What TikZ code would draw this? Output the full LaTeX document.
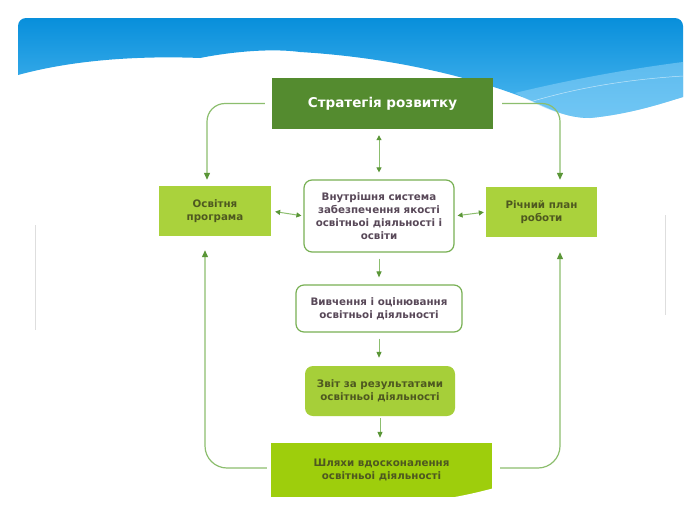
\documentclass[tikz,border=0pt]{standalone}
\usepackage{fontspec}
\setmainfont{DejaVu Sans}
\usetikzlibrary{arrows.meta,calc}
\definecolor{dkgreen}{RGB}{84,139,47}
\definecolor{ltgreen}{RGB}{170,210,60}
\definecolor{zvgreen}{RGB}{166,207,57}
\definecolor{brgreen}{RGB}{158,206,12}
\definecolor{bordgreen}{RGB}{120,176,84}
\definecolor{linegreen}{RGB}{140,190,110}
\definecolor{tipgreen}{RGB}{90,150,55}
\definecolor{olivetext}{RGB}{78,88,32}
\definecolor{graytext}{RGB}{88,72,88}
\definecolor{bluetop}{RGB}{8,143,219}
\definecolor{bluebot}{RGB}{80,185,240}
\definecolor{bluelight}{RGB}{140,210,248}
\tikzset{
  boxbase/.style={inner sep=0pt, align=center, font=\bfseries\fontsize{10.3}{13}\selectfont},
  greenbox/.style={boxbase, fill=ltgreen, text=olivetext},
  whitebox/.style={boxbase, draw=bordgreen, line width=1.2pt, fill=white, rounded corners=8pt, text=graytext},
  conn/.style={draw=linegreen, line width=1.2pt, -{Triangle[width=6pt,length=7pt,color=tipgreen]}},
  dconn/.style={draw=linegreen, line width=1pt, {Triangle[width=5pt,length=5pt,color=tipgreen]}-{Triangle[width=5pt,length=5pt,color=tipgreen]}},
  sconn/.style={draw=linegreen, line width=1pt, -{Triangle[width=5pt,length=6pt,color=tipgreen]}}
}
\begin{document}
\begin{tikzpicture}[x=1pt,y=-1pt]
\useasboundingbox (0,0) rectangle (700,525);
\fill[white] (0,0) rectangle (700,525);
% header
\shade[top color=bluetop, bottom color=bluebot]
  (18,75) -- (18,26) .. controls (18,21.6) and (21.6,18) .. (26,18) -- (675,18)
  .. controls (679.4,18) and (683,21.6) .. (683,26) -- (683,97)
  .. controls (660,104) and (630,114) .. (590,118)
  .. controls (570,118) and (555,112) .. (530,100)
  .. controls (480,80) and (400,58) .. (300,52)
  .. controls (270,48) and (230,52) .. (200,58)
  .. controls (150,56) and (80,58) .. (18,75) -- cycle;
\fill[bluelight, opacity=0.55]
  (683,62) .. controls (620,70) and (560,82) .. (515,93)
  .. controls (540,106) and (560,117) .. (590,118)
  .. controls (630,114) and (660,104) .. (683,97) -- cycle;
\draw[white, opacity=0.6, line width=0.5pt] (500,112) .. controls (560,90) and (620,80) .. (683,76);
% side shadows
\draw[black!25, line width=1pt, opacity=0.5] (35,225) -- (35,330);
\draw[black!25, line width=1pt, opacity=0.5] (665,215) -- (665,315);
% nodes
\node[boxbase, fill=dkgreen, text=white, minimum width=221pt, minimum height=51pt,
  font=\bfseries\fontsize{13.5}{16}\selectfont] (strat) at (382.5,103.5) {Стратегія розвитку};
\node[greenbox, minimum width=112pt, minimum height=50pt] (osv) at (215,211) {Освітня\\програма};
\node[whitebox, minimum width=150pt, minimum height=72pt] (vnut) at (379,216) {Внутрішня система\\забезпечення якості\\освітньоі діяльності і\\освіти};
\node[greenbox, minimum width=111pt, minimum height=50pt] (rich) at (541.5,212) {Річний план\\роботи};
\node[whitebox, minimum width=166pt, minimum height=47pt] (vyv) at (379,308.5) {Вивчення і оцінювання\\освітньоі діяльності};
\node[boxbase, fill=zvgreen, text=olivetext, rounded corners=8pt, minimum width=150pt, minimum height=50pt] (zvit) at (380,391) {Звіт за результатами\\освітньоі діяльності};
\node[boxbase, fill=brgreen, text=olivetext, minimum width=221pt, minimum height=54pt] (shl) at (381.5,470) {Шляхи вдосконалення\\освітньоі діяльності};
% connectors
\draw[conn, rounded corners=18pt, shorten <=7pt, shorten >=6pt] (strat.west) -| ([xshift=-8pt]osv.north);
\draw[conn, rounded corners=18pt, shorten <=9pt, shorten >=7pt] (strat.east) -| ([xshift=18.5pt]rich.north);
\draw[dconn, shorten <=6pt, shorten >=7pt] (vnut.north |- strat.south) -- (vnut.north);
\draw[dconn, shorten <=4pt, shorten >=2pt] (osv.east) -- (vnut.west);
\draw[dconn, shorten <=3pt, shorten >=2pt] (vnut.east) -- (rich.west);
\draw[sconn, shorten <=6pt, shorten >=7pt] (vnut.south) -- (vnut.south |- vyv.north);
\draw[sconn, shorten <=6pt, shorten >=8pt] (vyv.south) -- (vyv.south |- zvit.north);
\draw[sconn, shorten <=2pt, shorten >=5pt] (zvit.south) -- (zvit.south |- shl.north);
\draw[conn, rounded corners=22pt, shorten <=4pt, shorten >=14pt] ([yshift=2pt]shl.west) -| ([xshift=-10pt]osv.south);
\draw[conn, rounded corners=22pt, shorten <=8pt, shorten >=15pt] ([yshift=2pt]shl.east) -| ([xshift=18.5pt]rich.south);
% white fade overlay bottom right
\fill[white] (420,525) -- (420,502) .. controls (470,497) and (520,482) .. (545,470)
  .. controls (565,458) and (580,440) .. (610,420) .. controls (640,405) and (670,400) .. (700,398)
  -- (700,525) -- cycle;
\end{tikzpicture}
\end{document}
